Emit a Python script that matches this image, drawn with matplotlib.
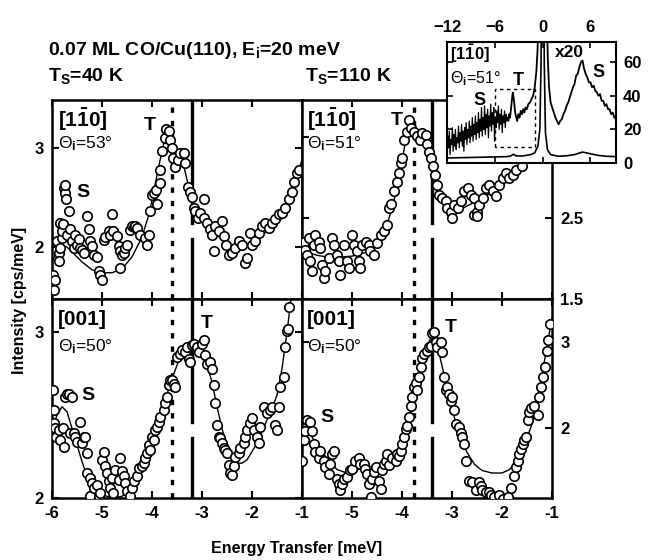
import numpy as np
import matplotlib.pyplot as plt

plt.rcParams['font.family'] = ['Liberation Sans', 'DejaVu Sans']
plt.rcParams['font.weight'] = 'bold'
plt.rcParams['mathtext.fontset'] = 'custom'
plt.rcParams['mathtext.rm'] = 'Liberation Sans'
plt.rcParams['mathtext.bf'] = 'Liberation Sans:bold'
plt.rcParams['mathtext.it'] = 'Liberation Sans:italic'

# --- data (energy transfer [meV], intensity [cps/meV]) ---
# T_S = 40 K, [1-10], theta_i = 53
tl_pts = [(-5.99, 1.72), (-5.94, 1.67), (-5.96, 1.57), (-5.91, 2.06), (-5.87, 1.94), (-5.87, 1.86),
          (-5.84, 1.99), (-5.84, 2.24), (-5.81, 2.09), (-5.81, 2.16), (-5.79, 2.23), (-5.77, 2.60),
          (-5.74, 2.55), (-5.72, 2.49), (-5.75, 2.63), (-5.67, 2.36), (-5.71, 2.12), (-5.64, 2.18),
          (-5.61, 2.06), (-5.57, 1.99), (-5.54, 2.12), (-5.51, 2.02), (-5.47, 2.08), (-5.44, 1.99),
          (-5.41, 1.97), (-5.37, 1.94), (-5.31, 2.31), (-5.27, 2.18), (-5.24, 2.06), (-5.21, 2.01),
          (-5.17, 1.92), (-5.11, 1.90), (-5.07, 1.76), (-5.04, 1.72), (-5.01, 1.67), (-4.97, 2.07),
          (-4.94, 2.10), (-4.87, 2.16), (-4.84, 2.12), (-4.81, 2.33), (-4.78, 2.16), (-4.71, 2.11),
          (-4.67, 2.01), (-4.64, 1.96), (-4.61, 1.92), (-4.64, 1.79), (-4.57, 1.94), (-4.54, 1.99),
          (-4.51, 2.02), (-4.44, 2.17), (-4.41, 2.21), (-4.37, 2.20), (-4.34, 2.21), (-4.31, 2.19),
          (-4.24, 2.12), (-4.14, 2.09), (-4.11, 2.02), (-4.07, 2.12), (-4.04, 2.36), (-4.01, 2.53),
          (-3.97, 2.55), (-3.92, 2.58), (-3.91, 2.43), (-3.85, 2.65), (-3.84, 2.78), (-3.81, 2.97),
          (-3.74, 3.10), (-3.72, 3.19), (-3.67, 3.17), (-3.64, 3.08), (-3.61, 3.00), (-3.59, 2.90),
          (-3.54, 2.81), (-3.49, 2.88), (-3.44, 2.95), (-3.37, 2.95), (-3.34, 2.85), (-3.29, 2.61),
          (-3.24, 2.56), (-3.21, 2.51), (-3.17, 2.39), (-3.14, 2.36), (-3.09, 2.29), (-3.04, 2.34),
          (-2.97, 2.49), (-2.96, 2.29), (-2.91, 2.24), (-2.85, 2.18), (-2.81, 2.12), (-2.77, 1.96),
          (-2.74, 2.21), (-2.67, 2.16), (-2.61, 2.26), (-2.57, 2.11), (-2.52, 2.02), (-2.47, 1.92),
          (-2.41, 1.94), (-2.34, 1.99), (-2.27, 2.06), (-2.21, 2.02), (-2.14, 1.84), (-2.11, 1.89),
          (-2.05, 2.14), (-2.01, 2.02), (-1.94, 2.06), (-1.87, 2.14), (-1.81, 2.21), (-1.74, 2.24),
          (-1.67, 2.19), (-1.61, 2.24), (-1.54, 2.28), (-1.47, 2.33), (-1.41, 2.34), (-1.34, 2.39),
          (-1.27, 2.49), (-1.21, 2.56), (-1.16, 2.66), (-1.11, 2.75), (-1.07, 2.78)]
tl_fit = [(-6.0, 1.85), (-5.9, 1.95), (-5.8, 2.02), (-5.7, 2.0), (-5.6, 1.95), (-5.4, 1.85),
          (-5.2, 1.77), (-5.0, 1.74), (-4.8, 1.74), (-4.6, 1.78), (-4.4, 1.9), (-4.2, 2.1),
          (-4.05, 2.35), (-3.95, 2.6), (-3.85, 2.85), (-3.75, 3.08), (-3.68, 3.15), (-3.6, 3.05),
          (-3.52, 2.9), (-3.45, 2.88), (-3.38, 2.85), (-3.3, 2.68), (-3.2, 2.48), (-3.1, 2.35),
          (-2.9, 2.22), (-2.7, 2.12), (-2.5, 2.03), (-2.3, 2.0), (-2.1, 2.02), (-1.9, 2.08),
          (-1.7, 2.16), (-1.5, 2.27), (-1.35, 2.4), (-1.2, 2.58), (-1.05, 2.8), (-1.0, 2.88)]

# T_S = 110 K, [1-10], theta_i = 51
tr_pts = [(-5.97, 2.21), (-5.94, 2.11), (-5.91, 2.05), (-5.87, 2.25), (-5.84, 1.97), (-5.81, 1.84),
          (-5.77, 2.17), (-5.74, 2.29), (-5.67, 2.21), (-5.64, 2.13), (-5.61, 1.92), (-5.57, 1.76),
          (-5.54, 1.84), (-5.47, 2.01), (-5.40, 2.25), (-5.37, 2.17), (-5.30, 2.05), (-5.27, 1.97),
          (-5.24, 1.80), (-5.17, 2.17), (-5.10, 1.97), (-5.07, 1.88), (-5.00, 2.29), (-4.97, 2.17),
          (-4.90, 2.09), (-4.87, 1.97), (-4.84, 1.88), (-4.80, 2.17), (-4.73, 2.21), (-4.67, 2.17),
          (-4.64, 2.09), (-4.57, 2.05), (-4.50, 2.19), (-4.43, 2.29), (-4.37, 2.34), (-4.31, 2.42),
          (-4.27, 2.62), (-4.23, 2.68), (-4.17, 2.83), (-4.10, 2.95), (-4.07, 3.06), (-4.03, 3.18),
          (-4.00, 3.24), (-3.97, 3.47), (-3.91, 3.57), (-3.86, 3.71), (-3.83, 3.61), (-3.76, 3.57),
          (-3.70, 3.51), (-3.64, 3.47), (-3.60, 3.55), (-3.53, 3.53), (-3.50, 3.41), (-3.47, 3.32),
          (-3.43, 3.24), (-3.38, 3.14), (-3.35, 3.03), (-3.30, 2.91), (-3.26, 2.79), (-3.20, 2.75),
          (-3.13, 2.71), (-3.10, 2.62), (-3.03, 2.58), (-3.00, 2.50), (-2.96, 2.66), (-2.89, 2.62),
          (-2.83, 2.71), (-2.76, 2.83), (-2.69, 2.87), (-2.63, 2.79), (-2.56, 2.75), (-2.56, 2.54),
          (-2.51, 2.58), (-2.50, 2.52), (-2.46, 2.66), (-2.39, 2.75), (-2.33, 2.87), (-2.26, 2.91),
          (-2.19, 2.83), (-2.12, 2.77), (-2.06, 2.91), (-1.99, 2.99), (-1.92, 3.06), (-1.86, 2.99),
          (-1.79, 3.03), (-1.72, 3.10), (-1.6, 3.15), (-1.4, 3.25), (-1.2, 3.4), (-1.05, 3.5)]
tr_fit = [(-6.0, 2.1), (-5.7, 2.04), (-5.4, 2.01), (-5.0, 2.03), (-4.7, 2.08), (-4.5, 2.17),
          (-4.35, 2.32), (-4.2, 2.62), (-4.1, 2.88), (-4.0, 3.2), (-3.93, 3.45), (-3.86, 3.6),
          (-3.78, 3.6), (-3.68, 3.53), (-3.58, 3.48), (-3.48, 3.35), (-3.38, 3.12), (-3.28, 2.88),
          (-3.15, 2.7), (-3.0, 2.6), (-2.85, 2.6), (-2.7, 2.65), (-2.4, 2.74), (-2.1, 2.87),
          (-1.8, 3.03), (-1.5, 3.2), (-1.2, 3.38), (-1.0, 3.5)]

# T_S = 40 K, [001], theta_i = 50
bl_pts = [(-5.99, 2.65), (-5.97, 2.53), (-5.96, 2.45), (-5.94, 2.42), (-5.92, 2.37), (-5.87, 2.41),
          (-5.84, 2.35), (-5.79, 2.42), (-5.77, 2.31), (-5.74, 2.61), (-5.71, 2.63), (-5.67, 2.63),
          (-5.61, 2.61), (-5.64, 2.39), (-5.57, 2.39), (-5.54, 2.37), (-5.51, 2.34), (-5.44, 2.46),
          (-5.41, 2.33), (-5.37, 2.37), (-5.34, 2.37), (-5.31, 2.27), (-5.31, 2.15), (-5.24, 2.12),
          (-5.21, 2.09), (-5.24, 2.01), (-5.17, 2.06), (-5.11, 2.08), (-5.07, 2.01), (-5.04, 2.03),
          (-5.01, 2.23), (-4.97, 2.28), (-4.94, 2.19), (-4.91, 2.15), (-4.87, 2.10), (-4.84, 2.06),
          (-4.81, 2.12), (-4.78, 2.03), (-4.74, 2.17), (-4.67, 2.11), (-4.64, 2.24), (-4.61, 2.16),
          (-4.57, 2.13), (-4.54, 2.09), (-4.51, 2.04), (-4.44, 2.01), (-4.41, 2.06), (-4.37, 2.10),
          (-4.31, 2.13), (-4.27, 2.18), (-4.21, 2.19), (-4.17, 2.21), (-4.14, 2.24), (-4.11, 2.27),
          (-4.07, 2.32), (-4.04, 2.29), (-4.01, 2.37), (-3.97, 2.35), (-3.94, 2.41), (-3.91, 2.43),
          (-3.87, 2.46), (-3.84, 2.49), (-3.77, 2.53), (-3.74, 2.57), (-3.71, 2.61), (-3.67, 2.68),
          (-3.64, 2.71), (-3.61, 2.71), (-3.57, 2.69), (-3.54, 2.67), (-3.51, 2.85), (-3.44, 2.87),
          (-3.41, 2.89), (-3.34, 2.88), (-3.31, 2.91), (-3.27, 2.84), (-3.24, 2.82), (-3.21, 2.92),
          (-3.17, 2.93), (-3.11, 2.91), (-3.07, 2.88), (-3.01, 2.93), (-2.97, 2.95), (-2.94, 2.86),
          (-2.91, 2.81), (-2.84, 2.82), (-2.81, 2.78), (-2.77, 2.68), (-2.74, 2.57), (-2.71, 2.44),
          (-2.67, 2.37), (-2.64, 2.36), (-2.61, 2.33), (-2.57, 2.30), (-2.54, 2.29), (-2.51, 2.27),
          (-2.47, 2.20), (-2.44, 2.15), (-2.41, 2.14), (-2.37, 2.19), (-2.34, 2.25), (-2.27, 2.27),
          (-2.24, 2.30), (-2.17, 2.33), (-2.14, 2.37), (-2.11, 2.41), (-2.04, 2.45), (-2.01, 2.48),
          (-1.97, 2.41), (-1.91, 2.37), (-1.87, 2.33), (-1.84, 2.43), (-1.77, 2.55), (-1.71, 2.51),
          (-1.64, 2.53), (-1.61, 2.55), (-1.54, 2.44), (-1.51, 2.41), (-1.47, 2.55), (-1.44, 2.67),
          (-1.37, 2.73), (-1.34, 2.91), (-1.31, 3.01), (-1.29, 3.02), (-1.27, 3.15)]
bl_fit = [(-6.0, 2.42), (-5.9, 2.5), (-5.8, 2.55), (-5.7, 2.52), (-5.6, 2.42), (-5.5, 2.32),
          (-5.4, 2.22), (-5.3, 2.13), (-5.2, 2.07), (-5.0, 2.02), (-4.8, 2.0), (-4.6, 2.01),
          (-4.4, 2.06), (-4.2, 2.16), (-4.0, 2.33), (-3.8, 2.53), (-3.6, 2.72), (-3.45, 2.84),
          (-3.3, 2.9), (-3.15, 2.9), (-3.0, 2.86), (-2.9, 2.8), (-2.8, 2.7), (-2.7, 2.55),
          (-2.6, 2.42), (-2.5, 2.31), (-2.4, 2.25), (-2.3, 2.21), (-2.2, 2.21), (-2.1, 2.23),
          (-2.0, 2.28), (-1.9, 2.33), (-1.8, 2.4), (-1.7, 2.47), (-1.6, 2.54), (-1.5, 2.62),
          (-1.4, 2.78), (-1.3, 3.0), (-1.22, 3.2)]

# T_S = 110 K, [001], theta_i = 50
br_pts = [(-6.0, 1.62), (-5.97, 1.86), (-5.94, 1.97), (-5.91, 2.09), (-5.84, 2.07), (-5.81, 1.97),
          (-5.77, 1.82), (-5.74, 1.72), (-5.67, 1.66), (-5.64, 1.74), (-5.57, 1.62), (-5.54, 1.55),
          (-5.47, 1.47), (-5.44, 1.59), (-5.40, 1.70), (-5.37, 1.74), (-5.30, 1.41), (-5.27, 1.35),
          (-5.24, 1.28), (-5.20, 1.35), (-5.17, 1.41), (-5.10, 1.43), (-5.04, 1.51), (-5.00, 1.53),
          (-4.94, 1.62), (-4.87, 1.66), (-4.84, 1.59), (-4.77, 1.59), (-4.74, 1.53), (-4.70, 1.47),
          (-4.67, 1.35), (-4.63, 1.20), (-4.60, 1.41), (-4.57, 1.49), (-4.53, 1.55), (-4.47, 1.39),
          (-4.43, 1.29), (-4.40, 1.51), (-4.37, 1.59), (-4.33, 1.62), (-4.30, 1.70), (-4.27, 1.57),
          (-4.20, 1.66), (-4.13, 1.62), (-4.10, 1.70), (-4.07, 1.68), (-4.03, 1.74), (-4.00, 1.82),
          (-3.97, 1.90), (-3.93, 1.99), (-3.90, 2.03), (-3.87, 2.13), (-3.83, 2.26), (-3.80, 2.36),
          (-3.76, 2.48), (-3.73, 2.52), (-3.70, 2.44), (-3.66, 2.59), (-3.63, 2.71), (-3.60, 2.81),
          (-3.57, 2.86), (-3.50, 2.90), (-3.47, 2.94), (-3.43, 2.96), (-3.40, 3.10), (-3.37, 3.12),
          (-3.33, 3.00), (-3.30, 2.94), (-3.23, 3.00), (-3.20, 2.88), (-3.16, 2.59), (-3.13, 2.44),
          (-3.10, 2.48), (-3.07, 2.40), (-3.03, 2.32), (-3.00, 2.36), (-2.96, 2.21), (-2.93, 2.05),
          (-2.86, 2.01), (-2.83, 1.95), (-2.80, 1.90), (-2.76, 1.82), (-2.73, 1.62), (-2.66, 1.39),
          (-2.60, 1.37), (-2.53, 1.28), (-2.46, 1.37), (-2.43, 1.33), (-2.40, 1.28), (-2.33, 1.26),
          (-2.26, 1.26), (-2.23, 1.22), (-2.16, 1.20), (-2.06, 1.22), (-1.99, 1.18), (-1.89, 1.20),
          (-1.82, 1.31), (-1.76, 1.45), (-1.72, 1.55), (-1.69, 1.62), (-1.66, 1.70), (-1.62, 1.76),
          (-1.59, 1.82), (-1.56, 1.86), (-1.52, 1.90), (-1.49, 2.09), (-1.46, 2.19), (-1.42, 2.24),
          (-1.36, 2.26), (-1.29, 2.15), (-1.26, 2.36), (-1.22, 2.48), (-1.19, 2.59), (-1.15, 2.71),
          (-1.11, 2.90), (-1.09, 3.02), (-1.05, 3.21)]
br_fit = [(-6.0, 1.92), (-5.93, 2.0), (-5.85, 1.95), (-5.7, 1.8), (-5.5, 1.65), (-5.3, 1.52),
          (-5.1, 1.48), (-4.9, 1.52), (-4.7, 1.55), (-4.5, 1.56), (-4.3, 1.6), (-4.1, 1.72),
          (-3.95, 1.92), (-3.8, 2.25), (-3.7, 2.5), (-3.6, 2.75), (-3.5, 2.95), (-3.42, 3.05),
          (-3.35, 3.02), (-3.25, 2.85), (-3.15, 2.6), (-3.05, 2.35), (-2.95, 2.12), (-2.85, 1.93),
          (-2.7, 1.72), (-2.55, 1.58), (-2.4, 1.51), (-2.2, 1.48), (-2.0, 1.48), (-1.85, 1.52),
          (-1.7, 1.62), (-1.55, 1.8), (-1.4, 2.05), (-1.3, 2.3), (-1.2, 2.62), (-1.1, 2.95),
          (-1.0, 3.28)]

# inset: full spectrum, [1-10], theta_i = 51 (noisy x20 part read channel by channel)
ins_noise_i = [6, 16, 9, 19, 5, 14, 11, 21, 7, 17, 10, 20, 8, 15, 12, 22, 9, 18, 13, 23,
               10, 19, 7, 21, 14, 24, 11, 20, 15, 25, 12, 22, 16, 27, 13, 23, 17, 28, 14, 24,
               18, 30, 15, 26, 19, 33, 16, 27, 20, 34, 17, 29, 21, 32, 15, 28, 22, 35, 19, 30,
               23, 33, 13, 27, 21, 31, 24, 34, 20, 29, 23, 32, 18, 28, 24, 31, 21, 29, 25, 27]
ins_noise_e = np.linspace(-12, -4.4, len(ins_noise_i))
ins_x20_left = [(-4.3, 25), (-4.2, 29), (-4.1, 27), (-3.95, 33), (-3.85, 38), (-3.75, 42), (-3.65, 39),
                (-3.55, 35), (-3.45, 30), (-3.35, 28), (-3.2, 25), (-3.05, 29), (-2.9, 27), (-2.75, 31),
                (-2.6, 29), (-2.45, 32), (-2.3, 30), (-2.15, 33), (-2.0, 32), (-1.8, 35), (-1.6, 36),
                (-1.4, 38), (-1.2, 40), (-1.0, 45), (-0.8, 54), (-0.65, 66), (-0.5, 90)]
ins_x20_right = [(0.5, 90), (0.65, 62), (0.8, 45), (1.0, 36), (1.2, 33), (1.4, 30), (1.6, 27),
                 (1.8, 25), (2.0, 23), (2.2, 25), (2.4, 26), (2.6, 29), (2.8, 31), (3.0, 34),
                 (3.2, 36), (3.4, 39), (3.6, 42), (3.8, 45), (4.0, 47), (4.2, 52), (4.4, 53),
                 (4.6, 57), (4.8, 60), (5.0, 61), (5.2, 56), (5.4, 53), (5.6, 51), (5.8, 48),
                 (6.0, 48), (6.2, 45), (6.4, 46), (6.6, 43), (6.8, 42), (7.0, 40), (7.2, 41),
                 (7.4, 37), (7.6, 37), (7.8, 34), (8.0, 35), (8.2, 32), (8.4, 32), (8.6, 29),
                 (8.8, 30), (9.0, 27), (9.25, 27)]
ins_raw = [(-12, 3), (-10, 3.2), (-8, 3.4), (-6, 3.6), (-4.5, 3.8), (-4.0, 4.2), (-3.7, 5.2),
           (-3.3, 4.2), (-2.5, 4.2), (-1.5, 5), (-1.0, 6), (-0.6, 10), (-0.35, 20), (-0.2, 60),
           (-0.1, 200), (0.1, 200), (0.2, 60), (0.35, 18), (0.6, 8), (1.0, 5), (2, 4),
           (3, 4.3), (4, 5), (5, 6.5), (6, 5.5), (7, 4.5), (8, 4), (9.25, 3.8)]
ins_box = [(-6, 9.5), (-6, 44), (-1, 44), (-1, 9.5), (-6, 9.5)]

W, H = 657, 560
fig = plt.figure(figsize=(W / 100, H / 100), dpi=100)


def make_panel(x0, y0, pts, fit, dotted, solid, ylim, yticks, right, bottom):
    ax = fig.add_axes([x0 / W, 1 - (y0 + 199) / H, 250 / W, 199 / H])
    e, v = np.array(pts).T
    fe, fv = np.array(fit).T
    ax.plot(fe, fv, color='black', lw=1.0, zorder=2)
    ax.plot(e, v, 'o', ms=6.8, mfc='white', mec='black', mew=1.2, zorder=3)
    ax.axvline(dotted, color='black', lw=2.4, ls=(0, (1.6, 2.4)), zorder=1)
    ax.axvline(solid, ymin=0, ymax=0.3, color='black', lw=2.4, zorder=1)
    ax.axvline(solid, ymin=0.38, ymax=1, color='black', lw=2.4, zorder=1)
    ax.set_xlim(-6, -1)
    ax.set_ylim(*ylim)
    ax.set_xticks([-6, -5, -4, -3, -2, -1])
    ax.set_yticks(yticks)
    ax.set_yticklabels([('%g' % t) for t in yticks])
    if right:
        ax.set_xticklabels(['', '-5', '-4', '-3', '-2', '-1'])
    else:
        ax.set_xticklabels(['-6', '-5', '-4', '-3', '-2', '-1'])
    ax.tick_params(direction='in', length=5, width=1.5, top=True, right=True,
                   labelsize=12, pad=6, labelbottom=bottom,
                   labelleft=not right, labelright=right)
    for s in ax.spines.values():
        s.set_linewidth(1.8)
    return ax


ax_tl = make_panel(52, 100, tl_pts, tl_fit, -3.6, -3.2, (1.475, 3.485), [2, 3], False, False)
ax_tr = make_panel(302, 100, tr_pts, tr_fit, -3.76, -3.4, (1.5, 3.96), [1.5, 2.5, 3.5], True, False)
ax_bl = make_panel(52, 299, bl_pts, bl_fit, -3.6, -3.2, (2.0, 3.2), [2, 3], False, True)
ax_br = make_panel(302, 299, br_pts, br_fit, -3.76, -3.4, (1.19, 3.5), [2, 3], True, True)

# panel labels
big = dict(fontsize=15, weight='bold', va='top', ha='left')
small = dict(fontsize=12.5, weight='normal', va='top', ha='left')
ax_tl.text(0.025, 0.965, r'[1$\mathbf{\bar{1}}$0]', transform=ax_tl.transAxes, **big)
ax_tl.text(0.025, 0.83, r'Θ$_\mathrm{i}$=53°', transform=ax_tl.transAxes, **small)
ax_tr.text(0.02, 0.965, r'[1$\mathbf{\bar{1}}$0]', transform=ax_tr.transAxes, **big)
ax_tr.text(0.02, 0.83, r'Θ$_\mathrm{i}$=51°', transform=ax_tr.transAxes, **small)
ax_bl.text(0.025, 0.945, '[001]', transform=ax_bl.transAxes, **big)
ax_bl.text(0.025, 0.81, r'Θ$_\mathrm{i}$=50°', transform=ax_bl.transAxes, **small)
ax_br.text(0.02, 0.945, '[001]', transform=ax_br.transAxes, **big)
ax_br.text(0.02, 0.81, r'Θ$_\mathrm{i}$=50°', transform=ax_br.transAxes, **small)

lab = dict(fontsize=14, weight='bold', ha='center', va='center')
ax_tl.text(-4.04, 3.23, 'T', **lab)
ax_tl.text(-5.38, 2.55, 'S', **lab)
ax_tr.text(-4.10, 3.71, 'T', **lab)
ax_bl.text(-2.90, 3.05, 'T', **lab)
ax_bl.text(-5.28, 2.62, 'S', **lab)
ax_br.text(-3.03, 3.17, 'T', **lab)
ax_br.text(-5.50, 2.13, 'S', **lab)

# titles and axis labels
fig.text(48 / W, 1 - 55 / H, r'0.07 ML CO/Cu(110), E$_\mathbf{i}$=20 meV', fontsize=14, weight='bold')
fig.text(48 / W, 1 - 81 / H, r'T$_\mathbf{S}$=40 K', fontsize=14, weight='bold')
fig.text(305 / W, 1 - 81 / H, r'T$_\mathbf{S}$=110 K', fontsize=14, weight='bold')
fig.text(20 / W, 1 - 300 / H, 'Intensity [cps/meV]', rotation=90, fontsize=11.5,
         weight='bold', ha='center', va='center')
fig.text(297 / W, 1 - 548 / H, 'Energy Transfer [meV]', fontsize=11.5,
         weight='bold', ha='center', va='center')

# inset
ax_in = fig.add_axes([447 / W, 1 - 163 / H, 169 / W, 121 / H])
ax_in.set_facecolor('white')
ax_in.set_zorder(10)
ax_in.plot(ins_noise_e, ins_noise_i, color='black', lw=0.9)
le, lv = np.array(ins_x20_left).T
ax_in.plot(np.r_[ins_noise_e[-1], le], np.r_[ins_noise_i[-1], lv], color='black', lw=1.3)
re_, rv = np.array(ins_x20_right).T
ax_in.plot(re_, rv, color='black', lw=1.3)
ie, iv = np.array(ins_raw).T
ax_in.plot(ie, iv, color='black', lw=1.2)
be, bv = np.array(ins_box).T
ax_in.plot(be, bv, color='black', lw=1.0, ls=(0, (2.5, 2.5)))
ax_in.set_xlim(-12, 9.2)
ax_in.set_ylim(0, 72)
ax_in.set_xticks([-12, -6, 0, 6])
ax_in.set_yticks([0, 20, 40, 60])
ax_in.tick_params(direction='in', length=4, width=1.2, top=True, right=True,
                  labeltop=True, labelbottom=False, labelleft=False, labelright=True,
                  labelsize=12, pad=5)
for s in ax_in.spines.values():
    s.set_linewidth(1.5)
ax_in.text(-11.6, 71.5, r'[1$\mathbf{\bar{1}}$0]', fontsize=12, weight='bold', va='top', ha='left')
ax_in.text(-11.6, 56, r'Θ$_\mathrm{i}$=51°', fontsize=11.5, weight='normal', va='top', ha='left')
ax_in.text(-7.9, 37, 'S', fontsize=13, weight='bold', ha='center', va='center')
ax_in.text(-3.1, 49, 'T', fontsize=13, weight='bold', ha='center', va='center')
ax_in.text(3.4, 66, 'x20', fontsize=12.5, weight='bold', ha='center', va='center')
ax_in.text(7.0, 54, 'S', fontsize=13, weight='bold', ha='center', va='center')

fig.savefig('out.png', dpi=100)
